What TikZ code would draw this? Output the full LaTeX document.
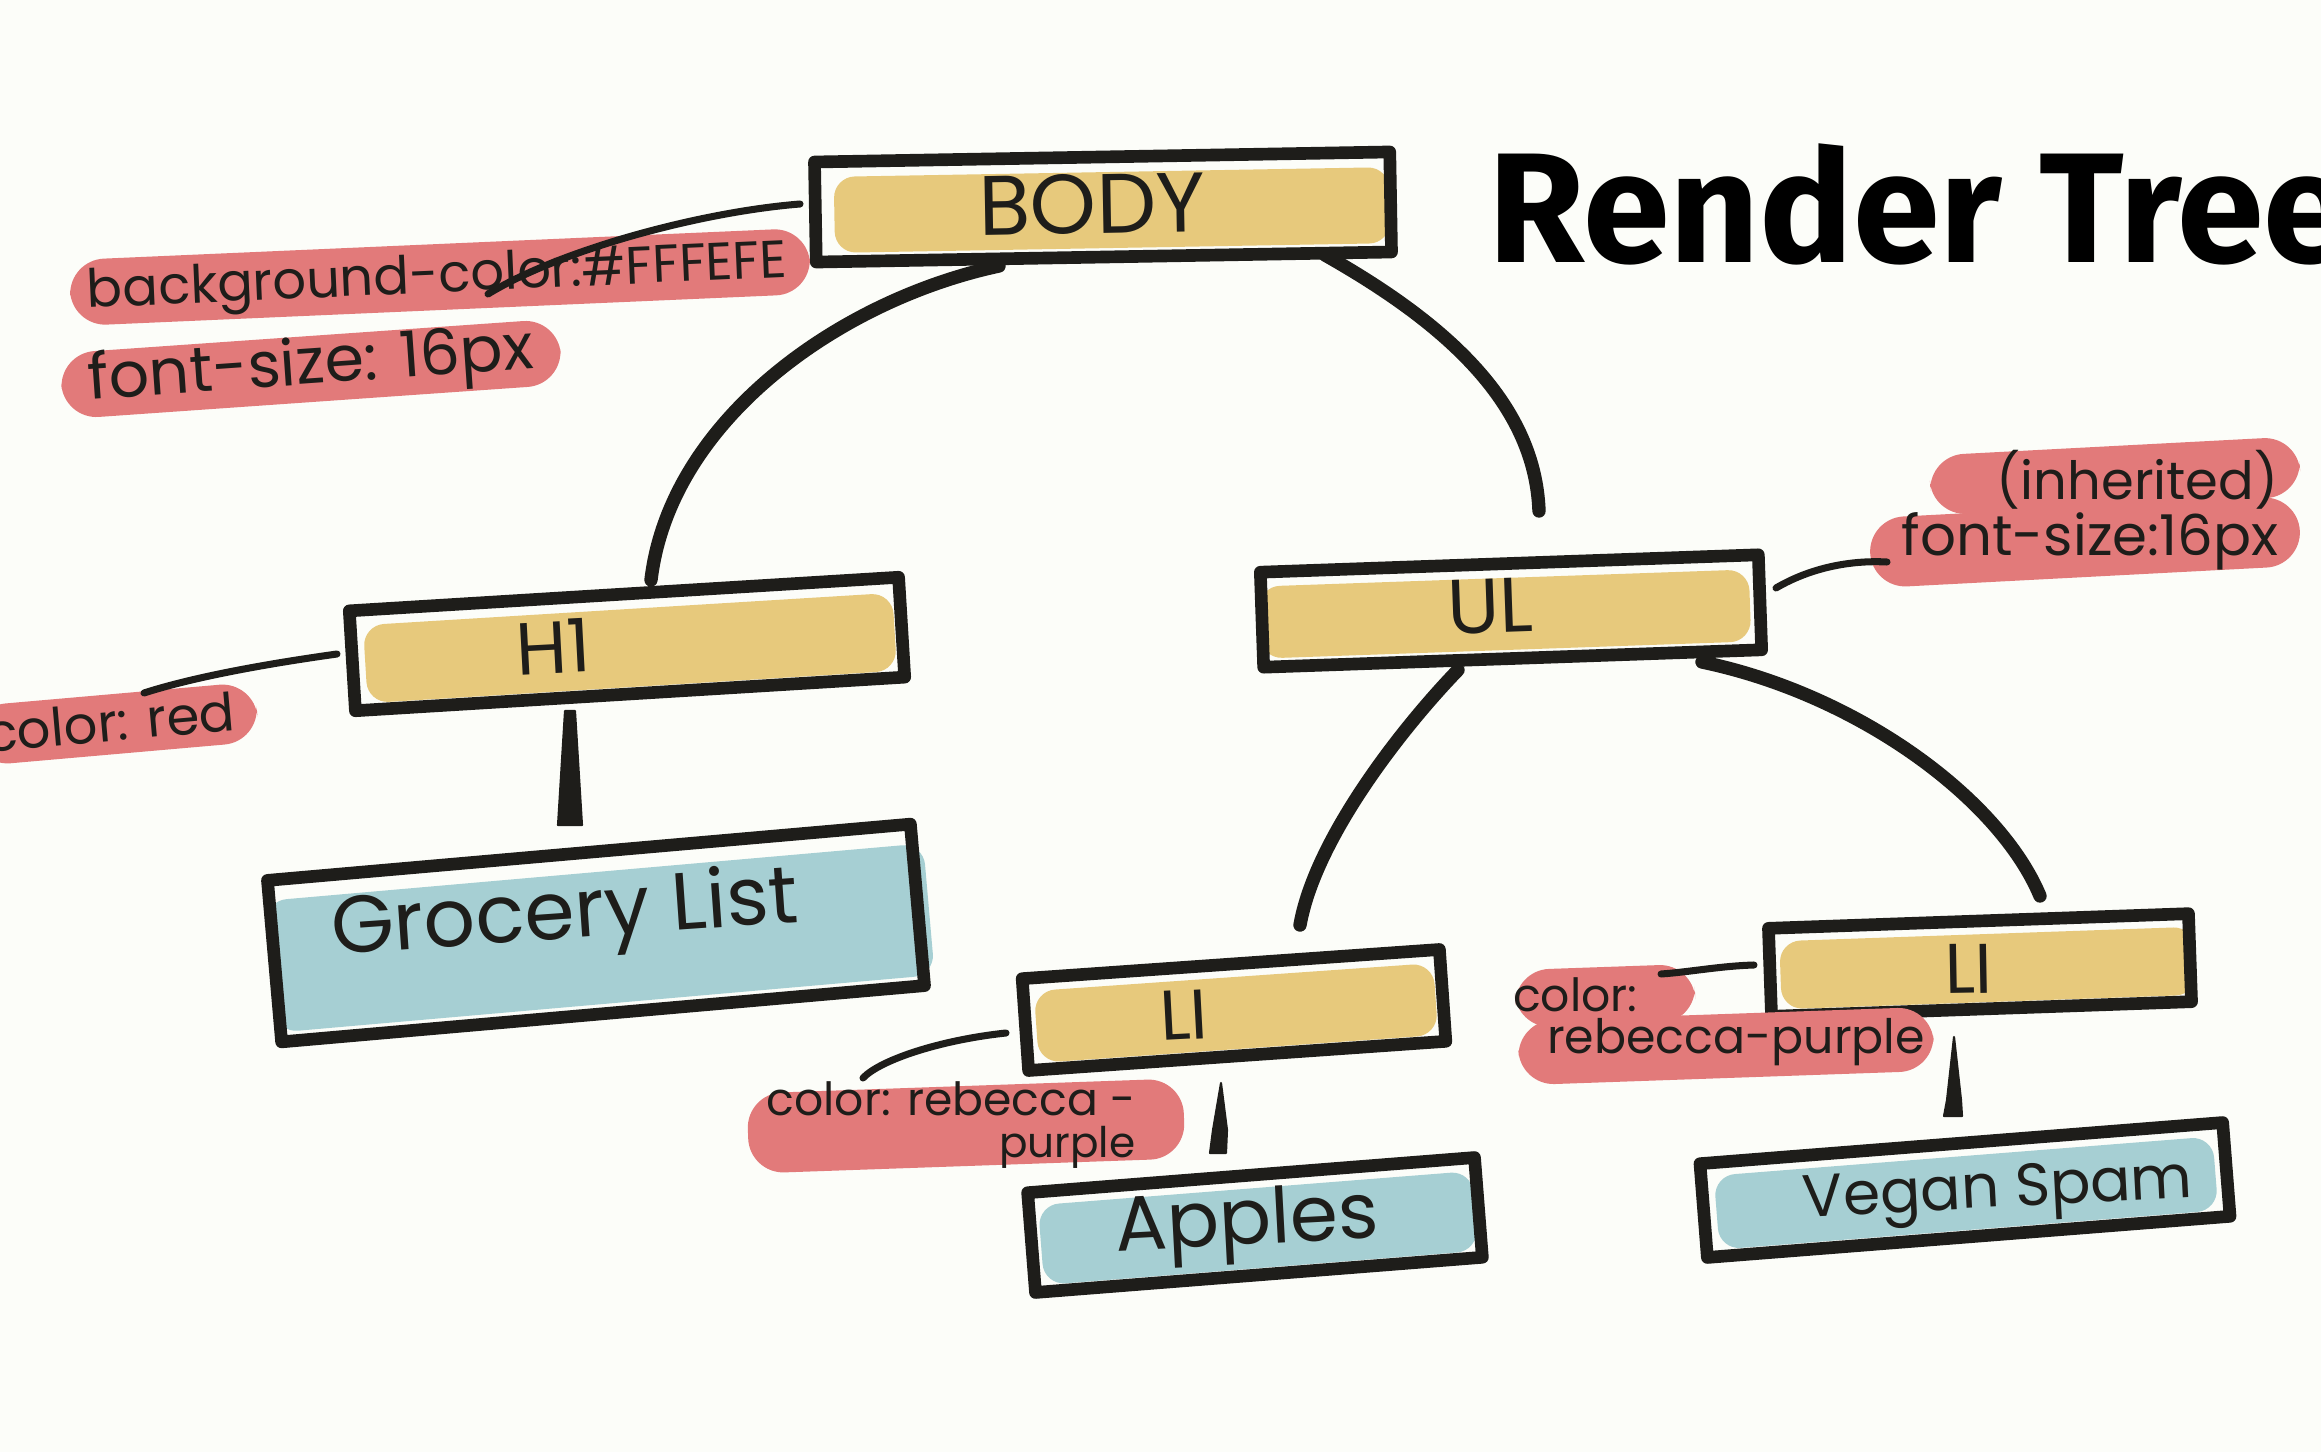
\documentclass[tikz,border=0pt]{standalone}
\usepackage{fontspec}
\setmainfont{Poppins}
\newfontfamily\titlefont{Fira Sans}
\usetikzlibrary{calc}
\definecolor{ink}{RGB}{30,29,26}
\definecolor{paper}{RGB}{252,253,249}
\definecolor{washy}{RGB}{231,201,124}
\definecolor{washb}{RGB}{166,207,211}
\definecolor{washr}{RGB}{226,122,122}
\begin{document}
\begin{tikzpicture}[x=0.01cm,y=-0.01cm,
  sbox/.style={draw=ink, line width=3.6pt, line join=round, rectangle, inner sep=0pt},
  wash/.style={fill=#1, draw=none, rectangle, rounded corners=6pt, inner sep=0pt},
  blob/.style={fill=washr, draw=none, rectangle, rounded corners=10pt, inner sep=0pt},
  hand/.style={text=ink, inner sep=0pt},
  treeedge/.style={draw=ink, line width=3.8pt, line cap=round},
  lead/.style={draw=ink, line width=2pt, line cap=round},
  taper/.style={fill=ink, draw=ink, line width=0.6pt, line join=round},
]
\fill[paper] (0,0) rectangle (2321,1452);
\useasboundingbox (0,0) rectangle (2321,1452);
\clip (0,0) rectangle (2321,1452);

% watercolour washes
\node[wash=washy, rotate=1, minimum width=5.55cm, minimum height=0.76cm] (bodyw) at (1112,210) {};
\node[wash=washy, rotate=3.5, minimum width=5.3cm, minimum height=0.78cm] (h1w) at (630,648) {};
\node[wash=washb, rotate=5, minimum width=6.6cm, minimum height=1.32cm] (grocw) at (600,938) {};
\node[wash=washy, rotate=2, minimum width=4.9cm, minimum height=0.72cm] (ulw) at (1505,614) {};
\node[wash=washy, rotate=4, minimum width=4.0cm, minimum height=0.72cm] (li1w) at (1236,1013) {};
\node[wash=washb, rotate=4.5, minimum width=4.35cm, minimum height=0.8cm] (applesw) at (1258,1228) {};
\node[wash=washy, rotate=2, minimum width=4.15cm, minimum height=0.68cm] (li2w) at (1988,968) {};
\node[wash=washb, rotate=4.5, minimum width=5.0cm, minimum height=0.74cm] (veganw) at (1966,1193) {};

% boxes
\node[sbox, rotate=1, minimum width=5.75cm, minimum height=1.0cm] (body) at (1103,207) {};
\node[sbox, rotate=3.5, minimum width=5.5cm, minimum height=1.0cm] (h1) at (627,644) {};
\node[sbox, rotate=5, minimum width=6.45cm, minimum height=1.62cm] (groc) at (596,933) {};
\node[sbox, rotate=2, minimum width=4.98cm, minimum height=0.95cm] (ul) at (1511,611) {};
\node[sbox, rotate=4, minimum width=4.18cm, minimum height=0.92cm] (li1) at (1234,1010) {};
\node[sbox, rotate=4.5, minimum width=4.48cm, minimum height=1.0cm] (apples) at (1255,1225) {};
\node[sbox, rotate=2, minimum width=4.2cm, minimum height=0.88cm] (li2) at (1980,965) {};
\node[sbox, rotate=4.5, minimum width=5.24cm, minimum height=0.94cm] (vegan) at (1965,1190) {};

% box texts
\node[hand, rotate=1, font={\fontsize{24}{28}\selectfont}] (bodyt) at (1092,204) {BODY};
\node[hand, rotate=3, font={\fontsize{21}{25}\selectfont}] (h1t) at (553,647) {H1};
\node[hand, rotate=4, font={\fontsize{23}{27}\selectfont}] (groct) at (565,918) {Grocery List};
\node[hand, rotate=2, font={\fontsize{22}{26}\selectfont}] (ult) at (1490,606) {UL};
\node[hand, rotate=3, font={\fontsize{20}{24}\selectfont}] (li1t) at (1184,1015) {LI};
\node[hand, rotate=3, font={\fontsize{22}{26}\selectfont}] (applest) at (1247,1226) {Apples};
\node[hand, rotate=1, font={\fontsize{20}{24}\selectfont}] (li2t) at (1969,969) {LI};
\node[hand, rotate=3, font={\fontsize{17}{21}\selectfont}] (vegant) at (1998,1194) {Vegan Spam};

% red property strips
\node[blob, rotate=2.5, minimum width=7.4cm, minimum height=0.66cm] (bgblob) at (440,277) {};
\node[blob, rotate=4, minimum width=5.0cm, minimum height=0.66cm] (fsblob) at (311,369) {};
\node[blob, rotate=5, minimum width=2.85cm, minimum height=0.6cm] (h1blob) at (115,724) {};
\node[blob, rotate=3, minimum width=3.7cm, minimum height=0.6cm] (ulblobA) at (2115,476) {};
\node[blob, rotate=3, minimum width=4.3cm, minimum height=0.7cm] (ulblobB) at (2085,542) {};
\node[blob, rotate=2, minimum width=4.36cm, minimum height=0.8cm] (li1blob) at (966,1126) {};
\node[blob, rotate=2, minimum width=1.8cm, minimum height=0.58cm] (li2blobA) at (1605,996) {};
\node[blob, rotate=2, minimum width=4.15cm, minimum height=0.64cm] (li2blobB) at (1726,1046) {};

% property texts
\node[hand, rotate=2.5, font={\fontsize{15}{18}\selectfont}] (bgt) at (437,280) {background-color:\#FFFEFE};
\node[hand, rotate=4, font={\fontsize{18}{21}\selectfont}] (fst) at (311,368) {font-size: 16px};
\node[hand, rotate=5, font={\fontsize{15}{18}\selectfont}] (h1lt) at (110,722) {color: red};
\node[hand, align=right] (ullt) at (2090,510)
  {{\fontsize{15}{19}\selectfont (inherited)}\\{\fontsize{16}{19}\selectfont font-size:16px}};
\node[hand, align=right] (li1lt) at (951,1125)
  {{\fontsize{13}{14}\selectfont color: rebecca -}\\{\fontsize{12}{14}\selectfont purple}};
\node[hand, align=left] (li2lt) at (1719,1022)
  {{\fontsize{13}{16}\selectfont color:}\\{\fontsize{13.5}{16}\selectfont\hspace*{0.34cm}rebecca-purple}};

% tree edges
\draw[treeedge] ($(body.center)+(-104,59)$) .. controls (840,300) and (670,420) .. ($(h1.center)+(24,-64)$);
\coordinate (ulgap) at ($(ul.center)+(28,-100)$);
\draw[treeedge] ($(body.center)+(222,48)$) .. controls (1440,320) and (1535,400) .. (ulgap);
\draw[treeedge] ($(ul.center)+(-53,59)$) .. controls (1400,730) and (1315,840) .. ($(li1.center)+(66,-85)$);
\draw[treeedge] ($(ul.center)+(191,51)$) .. controls (1860,695) and (2000,800) .. ($(li2.center)+(60,-69)$);

% tapered verticals
\filldraw[taper] ($(h1.center)+(-62,67)$) -- ($(h1.center)+(-52,67)$) -- ($(groc.center)+(-14,-108)$) -- ($(groc.center)+(-38,-108)$) -- cycle;
\filldraw[taper] ($(li1.center)+(-13,73)$) -- ($(li1.center)+(-7,120)$) -- ($(apples.center)+(-29,-72)$) -- ($(apples.center)+(-45,-72)$) -- ($(li1.center)+(-21,120)$) -- cycle;
\filldraw[taper] ($(li2.center)+(-26,72)$) -- ($(li2.center)+(-19,135)$) -- ($(vegan.center)+(-3,-74)$) -- ($(vegan.center)+(-21,-74)$) -- ($(li2.center)+(-33,135)$) -- cycle;

% leads to property labels
\draw[lead] ($(body.center)+(-303,-3)$) .. controls (700,212) and (560,250) .. ($(bgblob.center)+(48,17)$);
\draw[lead] ($(h1.center)+(-290,10)$) .. controls (280,662) and (200,675) .. ($(h1blob.center)+(29,-31)$);
\draw[lead] ($(ul.center)+(265,-23)$) .. controls (1810,568) and (1850,560) .. ($(ulblobB.center)+(-198,20)$);
\draw[lead] ($(li1.center)+(-228,23)$) .. controls (940,1040) and (880,1060) .. ($(li1blob.center)+(-103,-48)$);
\draw[lead] ($(li2.center)+(-226,0)$) .. controls (1720,966) and (1690,972) .. ($(li2blobA.center)+(56,-22)$);

% title
\node[anchor=base west, text=black, inner sep=0pt, font={\titlefont\bfseries\fontsize{44.5}{48}\selectfont}] (title) at (1488,263) {Render Tree};
\end{tikzpicture}
\end{document}
